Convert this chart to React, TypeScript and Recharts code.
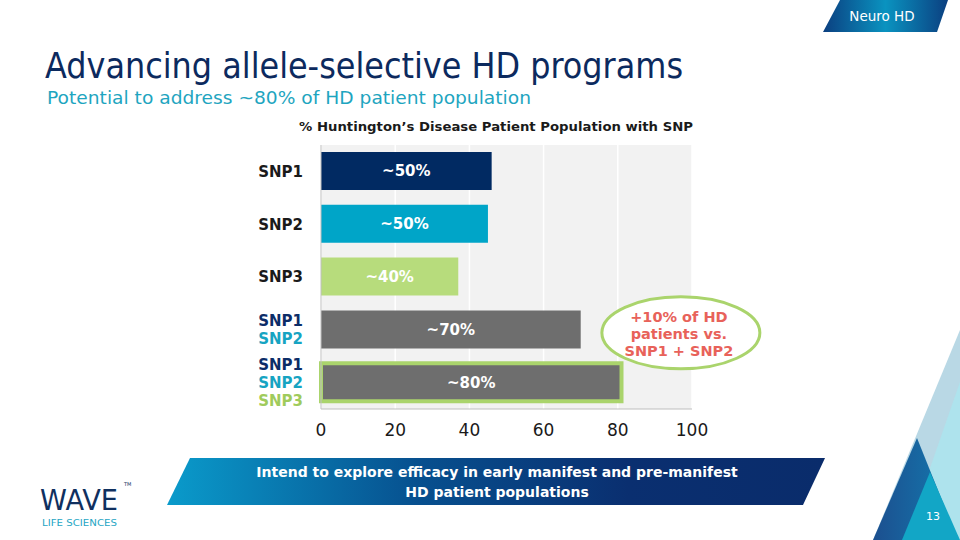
import React from "react";
import { BarChart, Bar, XAxis, YAxis, CartesianGrid, Cell, LabelList, ReferenceDot } from "recharts";

const categories = ["SNP1", "SNP2", "SNP3", "SNP1+SNP2", "SNP1+SNP2+SNP3"];
const values = [46, 45, 37, 70, 81];
const barLabels = ["~50%", "~50%", "~40%", "~70%", "~80%"];
const xTicks = [0, 20, 40, 60, 80, 100];

const SNP_COLORS: Record<string, string> = { SNP1: "#0c2d68", SNP2: "#16a4c2", SNP3: "#9fcb5c" };
const BAR_FILLS = ["#012a62", "#00a5c8", "#b7dc7c", "#6e6e6e", "#6e6e6e"];
const FONT = "'DejaVu Sans', Verdana, sans-serif";

const data = categories.map((name, i) => ({ name, value: values[i], label: barLabels[i] }));

const YTick = (props: any) => {
  const { x, y, payload } = props;
  const parts: string[] = String(payload.value).split("+");
  const multi = parts.length > 1;
  const lh = 17.7;
  const start = -((parts.length - 1) * lh) / 2;
  return (
    <g>
      {parts.map((p, i) => (
        <text
          key={i}
          x={x - 10}
          y={y + start + i * lh}
          dy="0.36em"
          textAnchor="end"
          fontFamily={FONT}
          fontWeight="bold"
          fontSize={15}
          fill={multi ? SNP_COLORS[p] : "#1a1a1a"}
        >
          {p}
        </text>
      ))}
    </g>
  );
};

const Callout = (props: any) => {
  const { cx, cy } = props;
  const c = cy + 3;
  return (
    <g>
      <ellipse cx={cx} cy={c} rx={79} ry={36} fill="#ffffff" stroke="#aad46c" strokeWidth={3} />
      {["+10% of HD", "patients vs.", "SNP1 + SNP2"].map((t, i) => (
        <text key={i} x={cx - 2} y={c - 16 + i * 17} dy="0.36em" textAnchor="middle" fontFamily={FONT} fontWeight="bold" fontSize={14.5} fill="#e8625a">
          {t}
        </text>
      ))}
    </g>
  );
};

export default function App() {
  return (
    <div style={{ position: "fixed", left: 0, top: 0, width: 960, height: 540, background: "#ffffff", overflow: "hidden" }}>
      <svg width={960} height={540} style={{ position: "absolute", left: 0, top: 0 }}>
        <defs>
          <linearGradient id="tabGrad" x1="0" y1="0" x2="1" y2="0">
            <stop offset="0" stopColor="#0b3f80" />
            <stop offset="0.5" stopColor="#0a93c0" />
            <stop offset="1" stopColor="#0b3f80" />
          </linearGradient>
          <linearGradient id="bannerGrad" x1="0" y1="0" x2="1" y2="0">
            <stop offset="0" stopColor="#0a9bcb" />
            <stop offset="0.38" stopColor="#07508f" />
            <stop offset="0.7" stopColor="#0a2f70" />
            <stop offset="1" stopColor="#0a2c6b" />
          </linearGradient>
          <linearGradient id="darkTri" x1="0" y1="0" x2="1" y2="0">
            <stop offset="0" stopColor="#1c4f8f" />
            <stop offset="1" stopColor="#137bb0" />
          </linearGradient>
        </defs>
        {/* top-right tab */}
        <polygon points="840,0 948,0 937,32 823,32" fill="url(#tabGrad)" />
        <text x={882} y={16} dy="0.36em" textAnchor="middle" fontFamily={FONT} fontSize={13.5} fill="#ffffff">Neuro HD</text>
        {/* titles */}
        <text x={45} y={78} fontFamily={FONT} fontSize={35} fill="#0c2a5e" textLength={638} lengthAdjust="spacingAndGlyphs">Advancing allele-selective HD programs</text>
        <text x={47} y={104} fontFamily={FONT} fontSize={18} fill="#1ea5c0" textLength={484} lengthAdjust="spacingAndGlyphs">Potential to address ~80% of HD patient population</text>
        <text x={496} y={131} textAnchor="middle" fontFamily={FONT} fontWeight="bold" fontSize={13} fill="#1a1a1a" textLength={394} lengthAdjust="spacingAndGlyphs">% Huntington’s Disease Patient Population with SNP</text>
        {/* bottom banner */}
        <polygon points="190,458 825,458 803,505 167,505" fill="url(#bannerGrad)" />
        <text x={497} y={472} dy="0.36em" textAnchor="middle" fontFamily={FONT} fontWeight="bold" fontSize={14} fill="#ffffff">Intend to explore efficacy in early manifest and pre-manifest</text>
        <text x={497} y={492} dy="0.36em" textAnchor="middle" fontFamily={FONT} fontWeight="bold" fontSize={14} fill="#ffffff">HD patient populations</text>
        {/* right decorations */}
        <polygon points="960,330 873,540 960,540" fill="#b9d8e5" />
        <polygon points="960,382 905,540 960,540" fill="#aee3ed" />
        <polygon points="917,438 873,540 958,540" fill="url(#darkTri)" />
        <polygon points="930,472 902,540 960,540" fill="#12a6c6" />
        <text x={933} y={516} dy="0.36em" textAnchor="middle" fontFamily={FONT} fontSize={11} fill="#ffffff">13</text>
        {/* logo */}
        <text x={40} y={510} fontFamily={FONT} fontSize={29} fill="#10305f" textLength={78} lengthAdjust="spacingAndGlyphs">WAVE</text>
        <text x={124} y={486} fontFamily={FONT} fontSize={5} fill="#10305f">TM</text>
        <text x={42} y={526} fontFamily={FONT} fontSize={8.5} fill="#26a6c4" textLength={75} lengthAdjust="spacingAndGlyphs">LIFE SCIENCES</text>
      </svg>
      <div style={{ position: "absolute", left: 0, top: 0 }}>
        <BarChart
          width={960}
          height={540}
          data={data}
          layout="vertical"
          margin={{ top: 145, right: 268, bottom: 101, left: 241 }}
          barSize={38}
        >
          <CartesianGrid horizontal={false} vertical={true} fill="#f2f2f2" stroke="#ffffff" strokeWidth={1.5} />
          <XAxis
            type="number"
            domain={[0, 100]}
            ticks={xTicks}
            height={30}
            tickLine={false}
            tickMargin={9}
            axisLine={{ stroke: "#bfbfbf" }}
            tick={{ fontFamily: FONT, fontSize: 17, fill: "#1a1a1a" }}
          />
          <YAxis
            type="category"
            dataKey="name"
            width={80}
            tickLine={false}
            axisLine={{ stroke: "#bfbfbf" }}
            tick={<YTick />}
          />
          <Bar dataKey="value" isAnimationActive={false}>
            {data.map((d, i) => (
              <Cell
                key={d.name}
                fill={BAR_FILLS[i]}
                stroke={i === data.length - 1 ? "#aad46c" : "none"}
                strokeWidth={i === data.length - 1 ? 4 : 0}
              />
            ))}
            <LabelList dataKey="label" position="center" fill="#ffffff" fontFamily={FONT} fontWeight="bold" fontSize={15} />
          </Bar>
          <ReferenceDot x={97} y="SNP1+SNP2" ifOverflow="visible" shape={<Callout />} />
        </BarChart>
      </div>
    </div>
  );
}
